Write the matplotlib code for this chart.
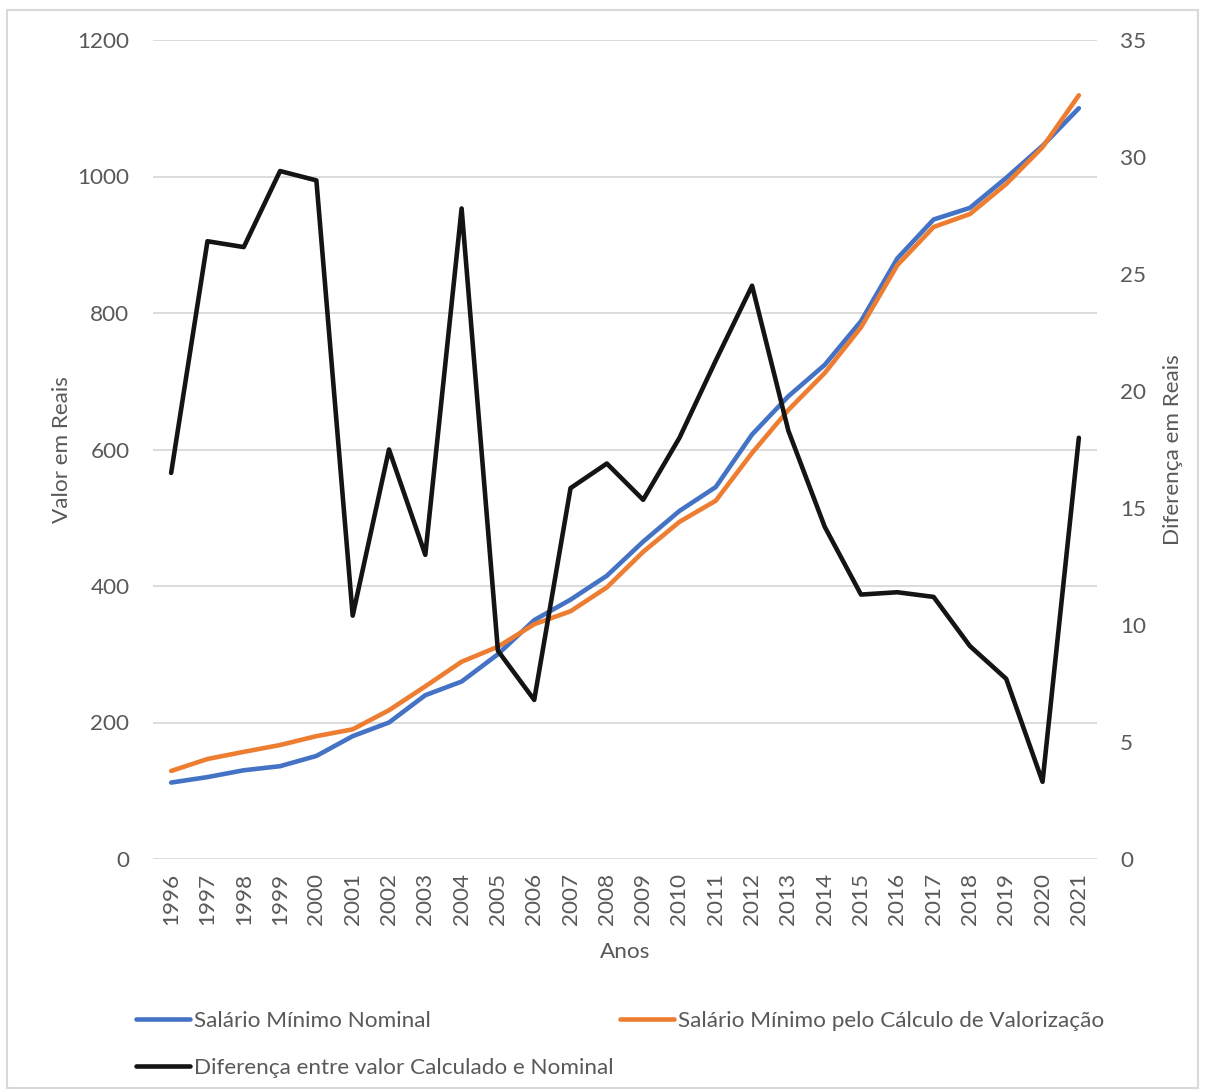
import numpy as np
import matplotlib.pyplot as plt
from matplotlib.patches import Rectangle

plt.rcParams['font.family'] = ['Lato', 'DejaVu Sans']

anos = [str(a) for a in range(1996, 2022)]

# salario minimo nominal (R$)
nominal = [112, 120, 130, 136, 151, 180, 200, 240, 260, 300, 350, 380, 415,
           465, 510, 545, 622, 678, 724, 788, 880, 937, 954, 998, 1045, 1100]

# salario pelo calculo de valorizacao (R$)
valorizacao = [129, 146.5, 157, 167, 180, 190, 218, 253, 289, 311, 344, 363, 398,
               450, 494, 525, 595, 658, 712, 779, 870, 926, 945, 989, 1043, 1119]

# diferenca entre calculado e nominal (R$, eixo direito)
diferenca = [16.5, 26.4, 26.15, 29.4, 29.0, 10.4, 17.5, 13.0, 27.8, 8.9, 6.8, 15.85, 16.9,
             15.35, 18.0, 21.3, 24.5, 18.3, 14.2, 11.3, 11.4, 11.2, 9.1, 7.7, 3.3, 18.0]

cinza = '#595959'
fs = 16.2

fig = plt.figure(figsize=(12.05, 10.92), dpi=100)
fig.patches.append(Rectangle((7/1205, 4/1092), 1191/1205, 1078/1092, transform=fig.transFigure,
                             fill=False, edgecolor='#d9d9d9', lw=1.5))

ax = fig.add_axes([153/1205, 1 - 859/1092, 944/1205, 819/1092])
ax2 = ax.twinx()

x = np.arange(len(anos))
l1, = ax.plot(x, nominal, color='#4472C4', lw=3.3, solid_capstyle='round', label='Salário Mínimo Nominal')
l2, = ax.plot(x, valorizacao, color='#ED7D31', lw=3.3, solid_capstyle='round',
              label='Salário Mínimo pelo Cálculo de Valorização')
l3, = ax2.plot(x, diferenca, color='#141414', lw=3.3, solid_capstyle='round',
               label='Diferença entre valor Calculado e Nominal')

ax.set_xlim(-0.5, len(anos) - 0.5)
ax.set_ylim(0, 1200)
ax.set_yticks(range(0, 1201, 200))
ax2.set_ylim(0, 35)
ax2.set_yticks(range(0, 36, 5))
ax.set_xticks(x)
ax.set_xticklabels(anos, rotation=90)

ax.grid(axis='y', color='#d9d9d9', lw=1.3)
ax.set_axisbelow(True)
for a in (ax, ax2):
    for s in a.spines.values():
        s.set_visible(False)
    a.tick_params(length=0, labelsize=fs, colors=cinza)
ax.tick_params(axis='y', pad=17)
ax2.tick_params(axis='y', pad=16.5)
ax.tick_params(axis='x', pad=10)

ax.set_ylabel('Valor em Reais', fontsize=fs, color=cinza, labelpad=4)
ax2.set_ylabel('Diferença em Reais', fontsize=fs, color=cinza, labelpad=12)
ax.set_xlabel('Anos', fontsize=fs, color=cinza, labelpad=12)

fig.legend(handles=[l1, l3, l2], loc='upper left', bbox_to_anchor=(136/1205, 1 - 1011/1092),
           ncol=2, frameon=False, fontsize=fs, labelcolor=cinza, handlelength=2.4,
           handletextpad=0.2, columnspacing=0.25, labelspacing=1.2, borderpad=0, borderaxespad=0)

fig.savefig('out.png', dpi=100)
